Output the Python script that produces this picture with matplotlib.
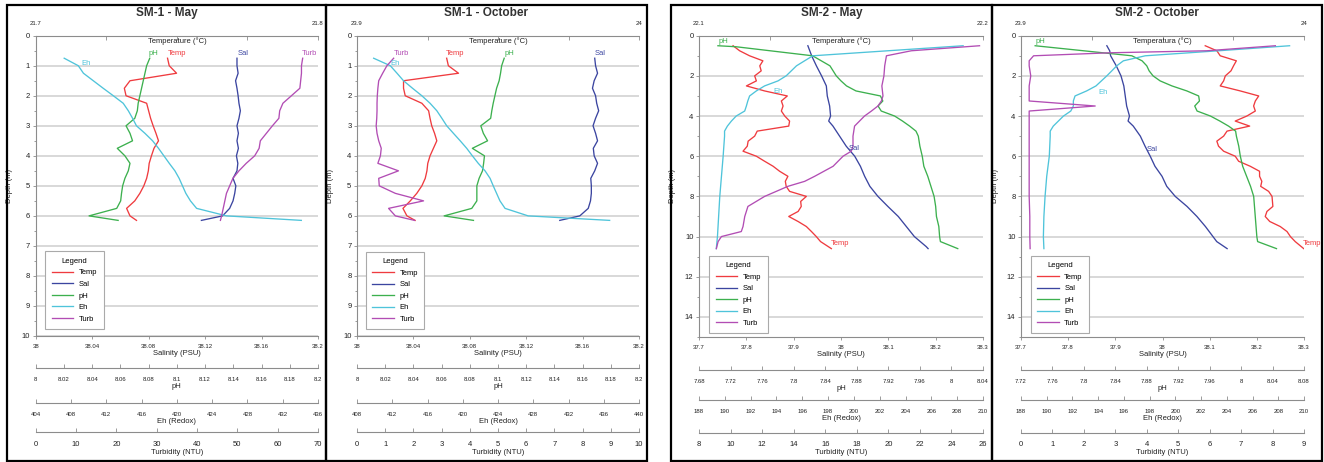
import matplotlib
matplotlib.use("Agg")
import matplotlib.pyplot as plt
from matplotlib.patches import Rectangle
from matplotlib.ticker import MultipleLocator

plt.rcParams['font.family'] = ['Liberation Sans', 'DejaVu Sans']

# ---------------- SM-1 May ----------------
sm1_depth = [0.75, 1.0, 1.25, 1.5, 1.75, 2.0, 2.25, 2.5, 2.75, 3.0, 3.25, 3.5,
             3.75, 4.0, 4.25, 4.5, 4.75, 5.0, 5.25, 5.5, 5.75, 6.0, 6.15]
sm1_may_temp = [21.7467, 21.7473, 21.7499, 21.7334, 21.7314, 21.7320, 21.7393, 21.7400,
                21.7407, 21.7416, 21.7426, 21.7435, 21.7419, 21.7410, 21.7402, 21.7399,
                21.7393, 21.7383, 21.7369, 21.7351, 21.7322, 21.7334, 21.7357]
sm1_may_sal = [38.1426, 38.1426, 38.1434, 38.1416, 38.1426, 38.1434, 38.1440, 38.1450,
               38.1440, 38.1426, 38.1436, 38.1426, 38.1436, 38.1422, 38.1432, 38.1426,
               38.1398, 38.1418, 38.1410, 38.1398, 38.1374, 38.1324, 38.1174]
sm1_may_ph = [8.0808, 8.0786, 8.0774, 8.0762, 8.0750, 8.0738, 8.0726, 8.0720, 8.0702,
              8.0640, 8.0668, 8.0686, 8.0578, 8.0632, 8.0668, 8.0656, 8.0632, 8.0616,
              8.0608, 8.0602, 8.0574, 8.0378, 8.0584]
sm1_may_eh = [407.23, 408.83, 409.41, 410.53, 411.65, 412.80, 413.92, 414.50, 414.98,
              415.42, 416.38, 417.25, 417.92, 418.53, 419.14, 419.78, 420.26, 420.64,
              421.02, 421.54, 422.24, 425.63, 434.11]
sm1_may_turb = [66.2, 65.9, 65.9, 65.7, 65.5, 63.4, 61.3, 60.5, 60.3, 58.7, 57.2, 55.7,
                55.4, 54.3, 52.2, 50.4, 48.9, 48.1, 47.3, 46.9, 46.5, 46.1, 45.8]

# ---------------- SM-1 October ----------------
sm1_oct_temp = [23.9318, 23.9324, 23.9360, 23.9165, 23.9165, 23.9171, 23.9230, 23.9254,
                23.9259, 23.9265, 23.9275, 23.9283, 23.9271, 23.9259, 23.9251, 23.9248,
                23.9242, 23.9230, 23.9212, 23.9189, 23.9163, 23.9177, 23.9206]
sm1_oct_sal = [38.1686, 38.1692, 38.1706, 38.1682, 38.1670, 38.1692, 38.1700, 38.1714,
               38.1692, 38.1674, 38.1692, 38.1706, 38.1676, 38.1682, 38.1706, 38.1686,
               38.1658, 38.1662, 38.1662, 38.1656, 38.1640, 38.1580, 38.1438]
sm1_oct_ph = [8.1044, 8.1026, 8.1018, 8.1008, 8.0990, 8.0978, 8.0966, 8.0956, 8.0948,
              8.0878, 8.0896, 8.0926, 8.0818, 8.0904, 8.0898, 8.0890, 8.0866, 8.0850,
              8.0850, 8.0850, 8.0814, 8.0618, 8.0826]
sm1_oct_eh = [409.89, 411.78, 412.54, 413.28, 414.30, 415.36, 416.29, 417.06, 417.63,
              418.18, 418.94, 419.71, 420.45, 421.09, 421.76, 422.53, 423.10, 423.46,
              423.84, 424.22, 424.80, 427.42, 436.67]
sm1_oct_turb = [1.30, 1.06, 0.91, 0.77, 0.74, 0.72, 0.71, 0.71, 0.70, 0.68, 0.71, 0.77,
                0.86, 0.83, 0.74, 1.47, 0.77, 0.79, 1.36, 2.36, 1.12, 1.36, 2.04]

# ---------------- SM-2 May ----------------
sm2_may_temp_d = [0.5, 0.75, 1.0, 1.25, 1.5, 1.75, 2.0, 2.25, 2.5, 2.75, 3.0, 3.25, 3.5,
                  3.75, 4.0, 4.25, 4.5, 4.75, 5.0, 5.25, 5.5, 5.75, 6.0, 6.25, 6.5, 6.75,
                  7.0, 7.25, 7.5, 7.75, 8.0, 8.25, 8.5, 8.75, 9.0, 9.25, 9.5, 9.75, 10.0,
                  10.25, 10.6]
sm2_may_temp = [22.1120, 22.1143, 22.1178, 22.1225, 22.1214, 22.1219, 22.1196, 22.1202,
                22.1167, 22.1231, 22.1311, 22.1290, 22.1296, 22.1290, 22.1302, 22.1319,
                22.1316, 22.1205, 22.1196, 22.1173, 22.1170, 22.1155, 22.1202, 22.1231,
                22.1261, 22.1284, 22.1313, 22.1304, 22.1307, 22.1319, 22.1378, 22.1358,
                22.1360, 22.1349, 22.1316, 22.1349, 22.1378, 22.1396, 22.1413, 22.1428,
                22.1466]
sm2_may_sal_d = [0.5, 1.0, 1.5, 2.0, 2.5, 3.0, 3.5, 4.0, 4.25, 4.5, 5.0, 5.5, 6.0, 6.5,
                 7.0, 7.5, 8.0, 8.5, 9.0, 9.5, 10.0, 10.5, 10.6]
sm2_may_sal = [37.930, 37.938, 37.948, 37.959, 37.969, 37.971, 37.976, 37.978, 37.974,
               37.983, 37.997, 38.011, 38.029, 38.041, 38.050, 38.061, 38.078, 38.099,
               38.121, 38.138, 38.155, 38.180, 38.184]
sm2_may_ph_d = [0.5, 0.55, 1.0, 1.25, 1.5, 1.75, 2.0, 2.25, 2.5, 2.75, 3.0, 3.25, 3.5,
                3.75, 4.0, 4.25, 4.5, 4.75, 5.0, 5.5, 6.0, 6.5, 7.0, 7.5, 8.0, 8.5, 9.0,
                9.5, 10.0, 10.25, 10.6]
sm2_may_ph = [7.704, 7.727, 7.824, 7.835, 7.846, 7.850, 7.854, 7.860, 7.867, 7.879,
              7.910, 7.913, 7.907, 7.911, 7.928, 7.938, 7.947, 7.955, 7.958, 7.960,
              7.963, 7.965, 7.970, 7.974, 7.978, 7.980, 7.981, 7.984, 7.985, 7.986, 8.008]
sm2_may_eh_d = [0.5, 1.0, 1.25, 1.5, 1.75, 2.0, 2.25, 2.5, 2.75, 3.0, 3.25, 3.5, 3.75,
                4.0, 4.25, 4.5, 4.75, 5.0, 6.0, 7.0, 8.0, 9.0, 10.0, 10.6]
sm2_may_eh = [208.46, 196.82, 196.18, 195.55, 195.15, 194.75, 194.12, 193.08, 192.44,
              191.92, 191.78, 191.67, 191.54, 190.88, 190.51, 190.20, 189.98, 189.98,
              189.87, 189.74, 189.61, 189.52, 189.43, 189.34]
sm2_may_turb_d = [0.5, 0.75, 1.0, 1.5, 2.0, 2.5, 3.0, 3.25, 3.5, 3.75, 4.0, 4.5, 5.0,
                  5.5, 5.75, 6.0, 6.5, 7.0, 7.25, 7.5, 8.0, 8.5, 9.0, 9.5, 9.75, 10.0,
                  10.25, 10.6]
sm2_may_turb = [25.78, 21.46, 19.88, 19.77, 19.72, 19.59, 19.66, 19.56, 19.34, 18.93,
                18.49, 17.86, 17.76, 17.76, 17.65, 17.13, 16.50, 15.33, 14.70, 13.63,
                12.16, 11.10, 10.90, 10.79, 10.68, 9.42, 9.21, 9.10]

# ---------------- SM-2 October ----------------
sm2_oct_temp_d = [0.5, 0.75, 1.0, 1.25, 1.5, 1.75, 2.0, 2.25, 2.5, 2.75, 3.0, 3.25, 3.5,
                  3.75, 4.0, 4.25, 4.5, 4.75, 5.0, 5.25, 5.5, 5.75, 6.0, 6.25, 6.5, 6.75,
                  7.0, 7.25, 7.5, 7.75, 8.0, 8.5, 8.75, 9.0, 9.25, 9.5, 9.75, 10.0,
                  10.25, 10.6]
sm2_oct_temp = [23.9651, 23.9692, 23.9704, 23.9761, 23.9751, 23.9742, 23.9722, 23.9716,
                23.9704, 23.9775, 23.9840, 23.9828, 23.9822, 23.9828, 23.9798, 23.9757,
                23.9808, 23.9728, 23.9716, 23.9692, 23.9698, 23.9716, 23.9757, 23.9769,
                23.9810, 23.9843, 23.9843, 23.9851, 23.9847, 23.9875, 23.9887, 23.9890,
                23.9869, 23.9863, 23.9879, 23.9916, 23.9940, 23.9952, 23.9969, 23.9999]
sm2_oct_sal_d = [0.5, 0.75, 1.0, 1.5, 2.0, 2.5, 3.0, 3.5, 4.0, 4.25, 4.5, 5.0, 5.5, 6.0,
                 6.5, 7.0, 7.5, 8.0, 8.5, 9.0, 9.5, 10.0, 10.25, 10.6]
sm2_oct_sal = [37.882, 37.888, 37.890, 37.902, 37.912, 37.918, 37.921, 37.924, 37.930,
               37.927, 37.938, 37.953, 37.963, 37.974, 37.984, 37.999, 38.009, 38.027,
               38.052, 38.073, 38.091, 38.107, 38.115, 38.137]
sm2_oct_ph_d = [0.5, 1.0, 1.25, 1.5, 1.75, 2.0, 2.25, 2.5, 2.75, 3.0, 3.25, 3.5, 3.75,
                4.0, 4.25, 4.5, 4.75, 5.0, 5.5, 6.0, 6.5, 7.0, 7.5, 8.0, 8.5, 9.0, 9.5,
                10.0, 10.25, 10.6]
sm2_oct_ph = [7.738, 7.861, 7.874, 7.880, 7.883, 7.888, 7.897, 7.912, 7.931, 7.946,
              7.947, 7.941, 7.944, 7.961, 7.973, 7.984, 7.993, 7.994, 7.997, 7.999,
              8.002, 8.007, 8.012, 8.016, 8.017, 8.018, 8.019, 8.020, 8.021, 8.045]
sm2_oct_eh_d = [0.5, 0.75, 1.0, 1.25, 1.5, 1.75, 2.0, 2.5, 2.75, 3.0, 3.25, 3.5, 3.75,
                4.0, 4.5, 4.75, 5.0, 6.0, 7.0, 8.0, 9.0, 10.0, 10.6]
sm2_oct_eh = [208.88, 203.36, 197.66, 195.96, 195.44, 195.06, 194.67, 193.83, 193.10,
              192.20, 192.07, 192.07, 191.87, 191.30, 190.51, 190.27, 190.27, 190.20,
              190.00, 189.87, 189.78, 189.74, 189.78]
sm2_oct_turb_d = [0.5, 0.75, 0.85, 1.0, 1.25, 1.5, 2.0, 2.5, 3.0, 3.25, 3.5, 3.75, 4.0,
                  5.0, 6.0, 7.0, 8.0, 9.0, 10.0, 10.6]
sm2_oct_turb = [8.09, 5.91, 2.84, 0.40, 0.26, 0.26, 0.31, 0.26, 0.26, 0.26, 2.36, 0.26,
                0.26, 0.26, 0.26, 0.26, 0.26, 0.28, 0.28, 0.29]

# ---------------- axis scales ----------------
sm1_may_temp_lim = (21.7, 21.8)
sm1_oct_temp_lim = (23.9, 24.0)
sm2_may_temp_lim = (22.1, 22.2)
sm2_oct_temp_lim = (23.9, 24.0)
sm1_sal_ticks = [38, 38.04, 38.08, 38.12, 38.16, 38.2]
sm1_ph_ticks = [8, 8.02, 8.04, 8.06, 8.08, 8.1, 8.12, 8.14, 8.16, 8.18, 8.2]
sm1_may_eh_ticks = [404, 408, 412, 416, 420, 424, 428, 432, 436]
sm1_oct_eh_ticks = [408, 412, 416, 420, 424, 428, 432, 436, 440]
sm1_may_turb_ticks = [0, 10, 20, 30, 40, 50, 60, 70]
sm1_oct_turb_ticks = [0, 1, 2, 3, 4, 5, 6, 7, 8, 9, 10]
sm2_sal_ticks = [37.7, 37.8, 37.9, 38, 38.1, 38.2, 38.3]
sm2_may_ph_ticks = [7.68, 7.72, 7.76, 7.8, 7.84, 7.88, 7.92, 7.96, 8, 8.04]
sm2_oct_ph_ticks = [7.72, 7.76, 7.8, 7.84, 7.88, 7.92, 7.96, 8, 8.04, 8.08]
sm2_eh_ticks = [188, 190, 192, 194, 196, 198, 200, 202, 204, 206, 208, 210]
sm2_may_turb_ticks = [8, 10, 12, 14, 16, 18, 20, 22, 24, 26]
sm2_oct_turb_ticks = [0, 1, 2, 3, 4, 5, 6, 7, 8, 9]

C_TEMP = '#ef3b3f'
C_SAL = '#3b45a0'
C_PH = '#3cb04e'
C_EH = '#4fc4da'
C_TURB = '#b24db4'
GRAY = '#8c8c8c'
TXT = '#222222'

W, H = 1324, 462
fig = plt.figure(figsize=(W / 100, H / 100), dpi=100)


def fmt(v):
    return '{:g}'.format(round(v, 4))


def add_bottom_scale(ax, ticks, label, offset, labelsize=4.3):
    tw = ax.twiny()
    tw.set_xlim(ticks[0], ticks[-1])
    for s in tw.spines.values():
        s.set_visible(False)
    sp = tw.spines['bottom']
    sp.set_visible(True)
    sp.set_position(('outward', offset))
    sp.set_color(GRAY)
    tw.xaxis.set_ticks_position('bottom')
    tw.xaxis.set_label_position('bottom')
    tw.set_xticks(ticks)
    tw.set_xticklabels([fmt(t) for t in ticks])
    tw.tick_params(axis='x', direction='in', length=3, width=0.6, pad=6.2,
                   labelsize=labelsize, color=GRAY, labelcolor=TXT)
    tw.set_xlabel(label, fontsize=5.5, labelpad=0.8, color=TXT)
    return tw


def draw_panel(box, rect, title, ymax, ystep, temp_lim, temp_label,
               sal_ticks, ph_ticks, eh_ticks, turb_ticks, series, offsets,
               labels, leg_anchor):
    x0, x1, y0, y1 = box
    fig.add_artist(Rectangle((x0 / W, 1 - y1 / H), (x1 - x0) / W, (y1 - y0) / H,
                             transform=fig.transFigure, fill=False, lw=1.6,
                             ec='black'))
    fig.text((x0 + x1) / 2 / W, 1 - 13 / H, title, ha='center', va='center',
             fontsize=8.5, fontweight='bold', color='#333333')

    l, r, t, b = rect
    ax = fig.add_axes([l / W, 1 - b / H, (r - l) / W, (b - t) / H])
    ax.set_ylim(ymax, 0)
    ax.yaxis.set_major_locator(MultipleLocator(ystep))
    ax.yaxis.set_minor_locator(MultipleLocator(ystep / 2))
    ax.yaxis.grid(True, color='#d2d2d2', lw=1.2)
    ax.set_axisbelow(True)
    ax.set_xlim(sal_ticks[0], sal_ticks[-1])
    ax.set_xticks(sal_ticks)
    ax.set_xticklabels([fmt(v) for v in sal_ticks])
    ax.spines['top'].set_visible(False)
    ax.spines['right'].set_visible(False)
    ax.spines['left'].set_color(GRAY)
    ax.spines['bottom'].set_color(GRAY)
    ax.tick_params(axis='x', direction='out', length=2.5, width=0.6, pad=3.5,
                   labelsize=4.3, color=GRAY, labelcolor=TXT)
    ax.tick_params(axis='y', which='major', direction='out', length=2, width=0.6,
                   pad=2, labelsize=5.5, color=GRAY, labelcolor=TXT)
    ax.tick_params(axis='y', which='minor', direction='out', length=1.5, width=0.6,
                   color=GRAY)
    ax.set_xlabel('Salinity (PSU)', fontsize=5.5, labelpad=0.8, color=TXT)
    ax.set_ylabel('Depth (m)', fontsize=5.5, color=TXT)
    ax.yaxis.set_label_coords(-22.5 / (r - l), 0.5)

    # temperature axis on top
    at = ax.twiny()
    at.set_xlim(*temp_lim)
    for s in at.spines.values():
        s.set_visible(False)
    at.spines['top'].set_visible(True)
    at.spines['top'].set_color(GRAY)
    lo, hi = temp_lim
    tt = [lo + (hi - lo) * k / 4 for k in range(5)]
    at.set_xticks(tt)
    at.set_xticklabels([fmt(lo), '', '', '', fmt(hi)])
    at.tick_params(axis='x', direction='in', length=3, width=0.6, pad=7,
                   labelsize=4.3, color=GRAY, labelcolor=TXT)
    at.text(0.5, 0.982, temp_label, transform=at.transAxes, ha='center',
            va='center', fontsize=5.5, color=TXT)

    aph = add_bottom_scale(ax, ph_ticks, 'pH', offsets[0])
    aeh = add_bottom_scale(ax, eh_ticks, 'Eh (Redox)', offsets[1])
    atu = add_bottom_scale(ax, turb_ticks, 'Turbidity (NTU)', offsets[2],
                           labelsize=5.5)

    axes = {'Temp': at, 'Sal': ax, 'pH': aph, 'Eh': aeh, 'Turb': atu}
    colors = {'Temp': C_TEMP, 'Sal': C_SAL, 'pH': C_PH, 'Eh': C_EH, 'Turb': C_TURB}
    handles = []
    for name in ['Temp', 'Sal', 'pH', 'Eh', 'Turb']:
        d, v = series[name]
        h, = axes[name].plot(v, d, color=colors[name], lw=0.95, label=name)
        handles.append(h)

    for name, (xf, dy) in labels.items():
        atu.text(xf, dy, name, transform=atu.get_yaxis_transform(), ha='center',
                 va='center', fontsize=5.5, color=colors[name])

    leg = atu.legend(handles=handles, title='Legend', loc='lower left',
                     bbox_to_anchor=leg_anchor, borderaxespad=0, fontsize=5.5,
                     title_fontsize=5.5, fancybox=False, framealpha=1,
                     edgecolor='#aaaaaa', handlelength=2.8, handletextpad=0.75,
                     labelspacing=0.55, borderpad=0.85)
    leg.get_frame().set_linewidth(0.8)


OFF1 = (23.0, 48.2, 69.1)
OFF2 = (23.8, 45.4, 68.9)

draw_panel((7, 326, 5, 461), (35.7, 318, 35.7, 336), 'SM-1 - May', 10, 1,
           sm1_may_temp_lim, 'Temperature (°C)', sm1_sal_ticks, sm1_ph_ticks,
           sm1_may_eh_ticks, sm1_may_turb_ticks,
           {'Temp': (sm1_depth, sm1_may_temp), 'Sal': (sm1_depth, sm1_may_sal),
            'pH': (sm1_depth, sm1_may_ph), 'Eh': (sm1_depth, sm1_may_eh),
            'Turb': (sm1_depth, sm1_may_turb)}, OFF1,
           {'Eh': (0.18, 0.92), 'pH': (0.416, 0.59), 'Temp': (0.499, 0.59),
            'Sal': (0.735, 0.59), 'Turb': (0.97, 0.59)}, (0.033, 0.023))

draw_panel((326, 647, 5, 461), (357, 639, 35.7, 336), 'SM-1 - October', 10, 1,
           sm1_oct_temp_lim, 'Temperature (°C)', sm1_sal_ticks, sm1_ph_ticks,
           sm1_oct_eh_ticks, sm1_oct_turb_ticks,
           {'Temp': (sm1_depth, sm1_oct_temp), 'Sal': (sm1_depth, sm1_oct_sal),
            'pH': (sm1_depth, sm1_oct_ph), 'Eh': (sm1_depth, sm1_oct_eh),
            'Turb': (sm1_depth, sm1_oct_turb)}, OFF1,
           {'Turb': (0.159, 0.59), 'Eh': (0.136, 0.92), 'Temp': (0.348, 0.59),
            'pH': (0.542, 0.59), 'Sal': (0.861, 0.59)}, (0.031, 0.022))

draw_panel((671, 992, 5, 461), (699, 983, 35.7, 337), 'SM-2 - May', 15, 2,
           sm2_may_temp_lim, 'Temperature (°C)', sm2_sal_ticks, sm2_may_ph_ticks,
           sm2_eh_ticks, sm2_may_turb_ticks,
           {'Temp': (sm2_may_temp_d, sm2_may_temp), 'Sal': (sm2_may_sal_d, sm2_may_sal),
            'pH': (sm2_may_ph_d, sm2_may_ph), 'Eh': (sm2_may_eh_d, sm2_may_eh),
            'Turb': (sm2_may_turb_d, sm2_may_turb)}, OFF2,
           {'pH': (0.085, 0.3), 'Eh': (0.278, 2.8), 'Sal': (0.548, 5.63),
            'Temp': (0.498, 10.35)}, (0.036, 0.012))

draw_panel((992, 1322, 5, 461), (1021, 1304, 35.7, 337), 'SM-2 - October', 15, 2,
           sm2_oct_temp_lim, 'Temperatura (°C)', sm2_sal_ticks, sm2_oct_ph_ticks,
           sm2_eh_ticks, sm2_oct_turb_ticks,
           {'Temp': (sm2_oct_temp_d, sm2_oct_temp), 'Sal': (sm2_oct_sal_d, sm2_oct_sal),
            'pH': (sm2_oct_ph_d, sm2_oct_ph), 'Eh': (sm2_oct_eh_d, sm2_oct_eh),
            'Turb': (sm2_oct_turb_d, sm2_oct_turb)}, OFF2,
           {'pH': (0.067, 0.27), 'Eh': (0.291, 2.85), 'Sal': (0.465, 5.65),
            'Temp': (1.028, 10.33)}, (0.034, 0.012))

fig.savefig('out.png', dpi=100)
